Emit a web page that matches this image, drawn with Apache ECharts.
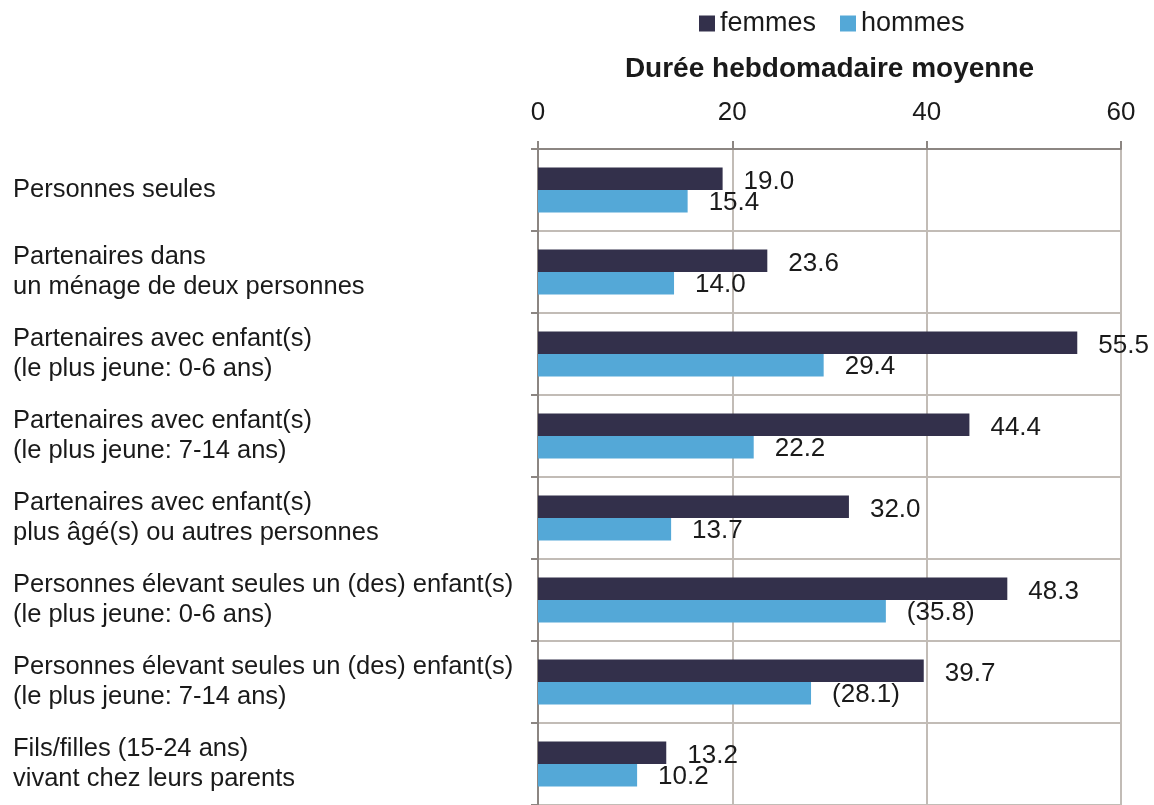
<!DOCTYPE html>
<html>
<head>
<meta charset="utf-8">
<script src="https://cdn.jsdelivr.net/npm/echarts@6/dist/echarts.min.js"></script>
<style>html,body{margin:0;padding:0;background:#fff}#c{width:1154px;height:805px}</style>
</head>
<body>
<div id="c"></div>
<script>
const categories = [
  "Personnes seules",
  "Partenaires dans\nun ménage de deux personnes",
  "Partenaires avec enfant(s)\n(le plus jeune: 0-6 ans)",
  "Partenaires avec enfant(s)\n(le plus jeune: 7-14 ans)",
  "Partenaires avec enfant(s)\nplus âgé(s) ou autres personnes",
  "Personnes élevant seules un (des) enfant(s)\n(le plus jeune: 0-6 ans)",
  "Personnes élevant seules un (des) enfant(s)\n(le plus jeune: 7-14 ans)",
  "Fils/filles (15-24 ans)\nvivant chez leurs parents"
];
const femmes = [19.0, 23.6, 55.5, 44.4, 32.0, 48.3, 39.7, 13.2];
const hommes = [15.4, 14.0, 29.4, 22.2, 13.7, 35.8, 28.1, 10.2];
const hommesUncertain = [false, false, false, false, false, true, true, false];
const xTicks = [0, 20, 40, 60];
const seriesNames = ["femmes", "hommes"];
const axisTitle = "Durée hebdomadaire moyenne";

const FONT = "'Liberation Sans', Arial, sans-serif";
const TXT = "#1a1a1a";
const chart = echarts.init(document.getElementById('c'), null, {renderer: 'canvas'});
chart.setOption({
  animation: false,
  backgroundColor: '#fff',
  textStyle: {fontFamily: FONT, color: TXT},
  legend: {
    data: seriesNames,
    top: 5,
    left: 694,
    itemWidth: 16,
    itemHeight: 16,
    itemGap: 24,
    icon: 'rect',
    textStyle: {fontFamily: FONT, fontSize: 27, color: TXT}
  },
  grid: {left: 538, right: 33, top: 149, bottom: -2, containLabel: false},
  xAxis: {
    type: 'value',
    position: 'top',
    min: xTicks[0],
    max: xTicks[xTicks.length - 1],
    interval: xTicks[1] - xTicks[0],
    name: axisTitle,
    nameLocation: 'middle',
    nameGap: 66,
    nameTextStyle: {fontFamily: FONT, fontSize: 28, fontWeight: 'bold', color: TXT},
    axisLine: {show: true, lineStyle: {color: '#8c8682', width: 2}},
    axisTick: {show: true, length: 8, lineStyle: {color: '#8c8682', width: 2}},
    axisLabel: {fontFamily: FONT, fontSize: 26, color: TXT, margin: 23},
    splitLine: {show: true, lineStyle: {color: '#c2bcb6', width: 2}}
  },
  yAxis: {
    type: 'category',
    inverse: true,
    data: categories,
    axisLine: {show: true, lineStyle: {color: '#8c8682', width: 2}},
    axisTick: {show: true, length: 7, lineStyle: {color: '#8c8682', width: 2}},
    axisLabel: {
      fontFamily: FONT, fontSize: 25.5, color: TXT, align: 'left', margin: 525, lineHeight: 30
    },
    splitLine: {show: true, lineStyle: {color: '#c2bcb6', width: 2}}
  },
  series: [
    {
      name: seriesNames[0], type: 'bar', data: femmes,
      barGap: '0%', barCategoryGap: '45%',
      itemStyle: {color: '#33304b'},
      label: {show: true, position: 'right', distance: 21, offset: [0, 3], fontFamily: FONT, fontSize: 26, color: TXT,
        formatter: p => p.value.toFixed(1)}
    },
    {
      name: seriesNames[1], type: 'bar', data: hommes,
      barGap: '0%', barCategoryGap: '45%',
      itemStyle: {color: '#54a8d7'},
      label: {show: true, position: 'right', distance: 21, offset: [0, 2], fontFamily: FONT, fontSize: 26, color: TXT,
        formatter: p => hommesUncertain[p.dataIndex] ? '(' + p.value.toFixed(1) + ')' : p.value.toFixed(1)}
    }
  ]
});
</script>
</body>
</html>
